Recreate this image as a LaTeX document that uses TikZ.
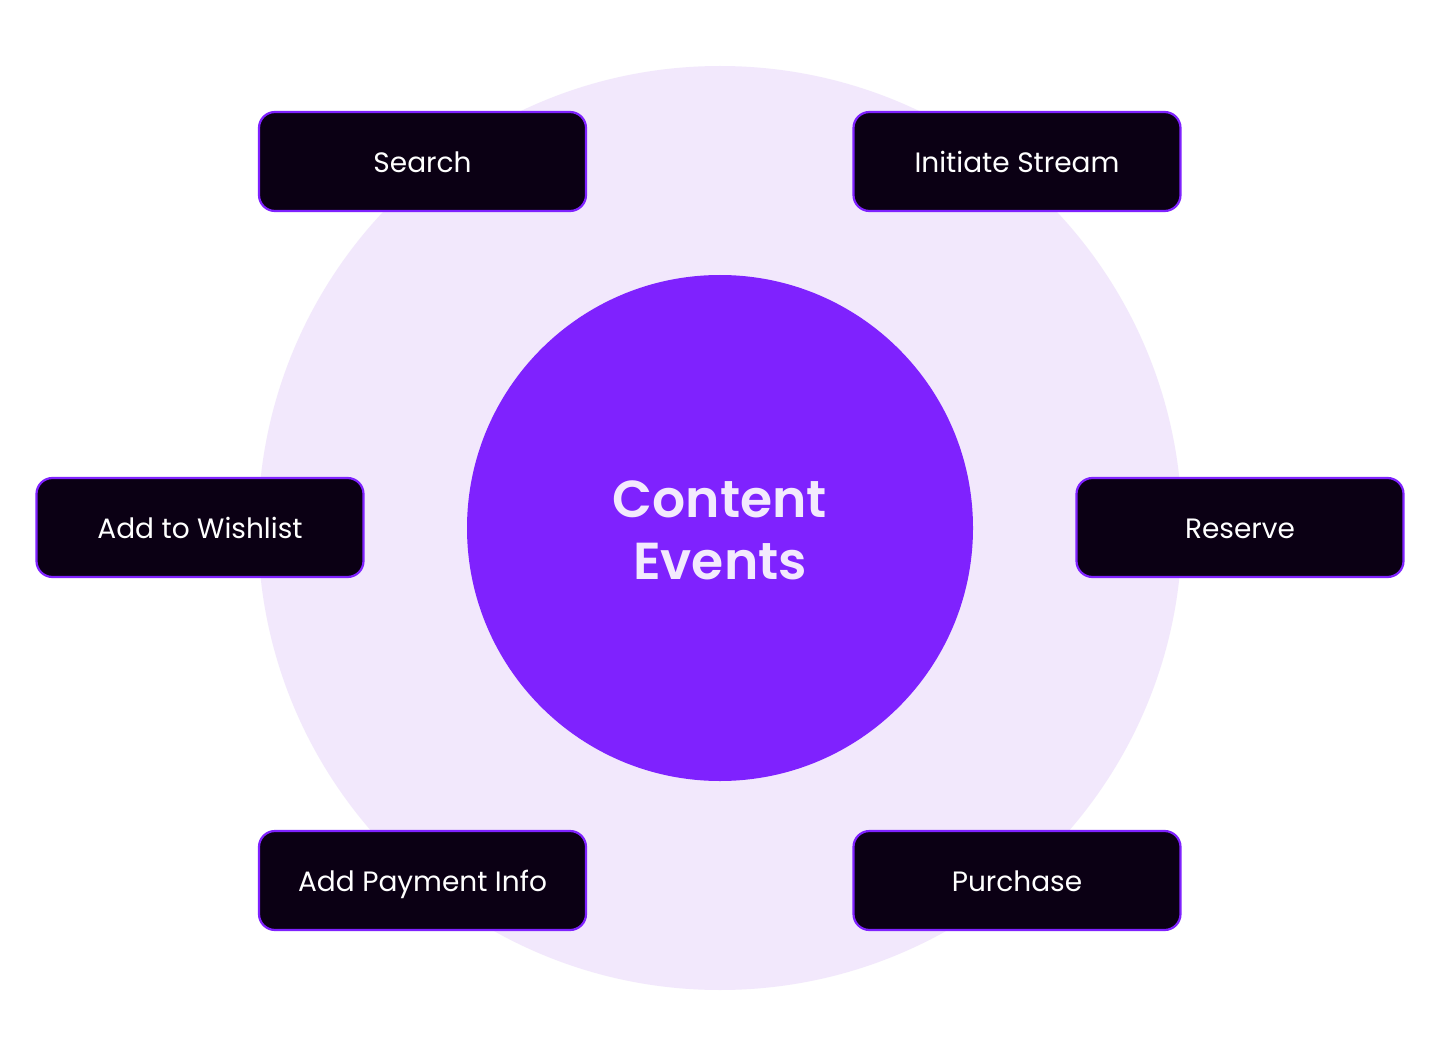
\documentclass[tikz,border=0pt]{standalone}
\usepackage{fontspec}
\setmainfont{Poppins}
\newfontfamily\medfont{Poppins SemiBold}
\definecolor{lav}{HTML}{F2E8FC}
\definecolor{vio}{HTML}{7F22FE}
\definecolor{boxfill}{HTML}{0B0014}
\definecolor{txtlav}{HTML}{F3EAFD}
\tikzset{
  evbox/.style={draw=vio, line width=2.2pt, fill=boxfill, rounded corners=16pt,
    minimum width=327pt, minimum height=99pt, inner sep=0pt,
    text height=22.6pt, text depth=0pt,
    text=white, font=\fontsize{28}{32}\selectfont},
}
\begin{document}
\begin{tikzpicture}[x=1pt,y=-1pt]
\useasboundingbox (0,0) rectangle (1440,1056);
\fill[white] (0,0) rectangle (1440,1056);
\node[circle, fill=lav, minimum size=924pt, inner sep=0pt] (outer) at (720,528) {};
\node[circle, fill=vio, minimum size=506pt, inner sep=0pt] (core) at (720,528) {};
\node[text=txtlav, align=center, font=\fontsize{52}{62}\medfont] (label) at (720,530) {Content\\Events};
\node[evbox] (search) at (422.5,161.5) {Search};
\node[evbox] (stream) at (1017,161.5) {Initiate Stream};
\node[evbox] (wish) at (200,527.5) {Add to Wishlist};
\node[evbox] (reserve) at (1240,527.5) {Reserve};
\node[evbox] (pay) at (422.5,880.5) {Add Payment Info};
\node[evbox] (purchase) at (1017,880.5) {Purchase};
\end{tikzpicture}
\end{document}
